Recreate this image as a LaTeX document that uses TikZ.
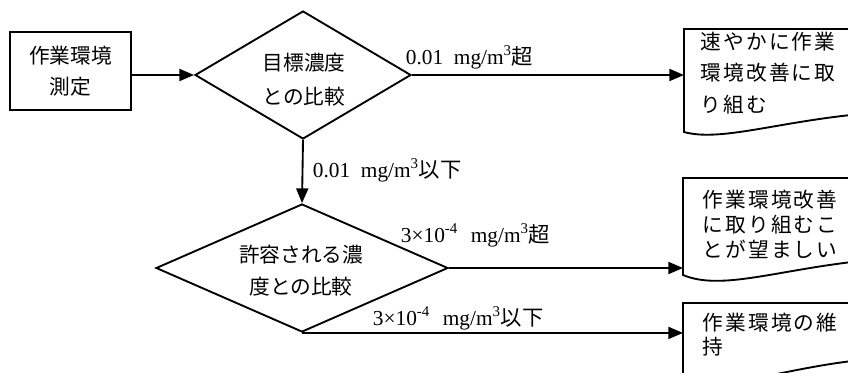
\documentclass[tikz,border=0pt]{standalone}
\usepackage{fontspec}
\setmainfont{Liberation Serif}
\newfontfamily\jp{Noto Sans CJK JP}
\newfontfamily\jpw[LetterSpace=10]{Noto Sans CJK JP}
\usetikzlibrary{shapes.geometric,arrows.meta}
\begin{document}
\begin{tikzpicture}[x=0.75pt,y=-0.75pt,
  line width=1.4pt,
  flow/.style={-{Triangle[length=11pt,width=9pt]}},
  box/.style={draw,rectangle,inner sep=0pt,minimum width=90.75pt,minimum height=58.5pt,
    font=\jp\fontsize{15.5}{23}\selectfont,align=center},
  dec/.style={draw,diamond,inner sep=0pt,aspect=2},
  dtext/.style={inner sep=0pt,align=center},
  doc/.style={rectangle,inner sep=0pt,anchor=north west},
  doctext/.style={inner sep=0pt,align=left,anchor=north west,font=\jpw\fontsize{15.5}{18.5}\selectfont},
  lbl/.style={inner sep=0pt,anchor=base west,font=\fontsize{16}{18}\selectfont}
]
\useasboundingbox (0,0) rectangle (848,372);
\clip (0,0) rectangle (848,372);

% start box
\node[box] (meas) at (70.5,71) {作業環境\\測定};

% decision 1
\node[dec,minimum width=162pt,minimum height=96pt] (cmp1) at (303,75) {};
\node[dtext,font=\jp\fontsize{15.5}{26}\selectfont] (cmp1t) at (304,79.5) {目標濃度\\との比較};

% decision 2
\node[dec,minimum width=219pt,minimum height=96pt] (cmp2) at (302,268) {};
\node[dtext,font=\jp\fontsize{15.5}{24}\selectfont] (cmp2t) at (301,271) {許容される濃\\度との比較};

% documents
\node[doc,minimum width=132pt,minimum height=62.25pt] (doc1) at (684,29) {};
\draw (doc1.north east) -- (doc1.north west) -- ++(0,103)
  .. controls +(36,10) and +(-85,8) .. (doc1.south east);
\node[doctext,font=\jpw\fontsize{15.5}{23.6}\selectfont] (doc1t) at (700,31) {速やかに作業\\環境改善に取\\り組む};

\node[doc,minimum width=132.75pt,minimum height=60.75pt] (doc2) at (683,178) {};
\draw (doc2.north east) -- (doc2.north west) -- ++(0,97)
  .. controls +(38,16) and +(-85,9) .. (doc2.south east);
\node[doctext] (doc2t) at (702,189.5) {作業環境改善\\に取り組むこ\\とが望ましい};

\node[doc,minimum width=132.75pt,minimum height=41.25pt] (doc3) at (683,303) {};
\draw (doc3.north east) -- (doc3.north west) -- ++(0,75)
  .. controls +(38,16) and +(-85,9) .. (doc3.south east);
\node[doctext] (doc3t) at (702,312) {作業環境の維\\持};

% connectors
\draw[flow] (meas.east |- cmp1.west) -- (cmp1.west);
\draw[flow] (cmp1.east) -- (cmp1.east -| doc1.west);
\draw[flow] (cmp1.south) -- (cmp2.north);
\draw[flow] (cmp2.east) -- (cmp2.east -| doc2.west);
\draw[flow] (cmp2.south) -- (cmp2.south -| doc3.west);

% labels
\node[lbl] (l1) at (405,64) {0.01\hspace{0.5em}mg/m\textsuperscript{3}{\jp 超}};
\node[lbl] (l2) at (312,177) {0.01\hspace{0.5em}mg/m\textsuperscript{3}{\jp 以下}};
\node[lbl] (l3) at (400,242) {3×10\textsuperscript{-4}\hspace{0.6em}mg/m\textsuperscript{3}{\jp 超}};
\node[lbl] (l4) at (372,325) {3×10\textsuperscript{-4}\hspace{0.6em}mg/m\textsuperscript{3}{\jp 以下}};
\end{tikzpicture}
\end{document}
